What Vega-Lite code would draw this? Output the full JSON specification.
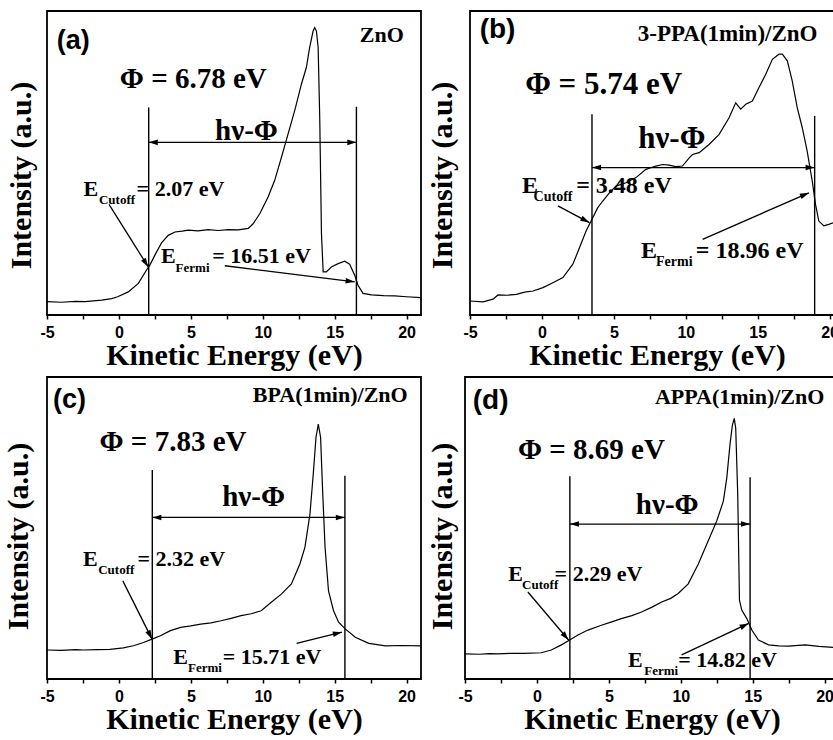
{
  "$schema": "https://vega.github.io/schema/vega-lite/v6.json",
  "padding": {"left": 2, "top": 10, "right": 0, "bottom": 0},
  "background": "white",
  "spacing": 5,
  "config": {
    "view": {"stroke": "black", "strokeWidth": 1.8},
    "axis": {
      "grid": false, "domain": false,
      "titleFont": "Liberation Serif", "titleFontWeight": "bold", "titleFontSize": 30, "titleColor": "black",
      "labelFont": "Liberation Sans", "labelFontWeight": "bold", "labelFontSize": 16, "labelColor": "black",
      "tickColor": "black"
    },
    "axisX": {"tickSize": 4, "tickWidth": 1.5, "labelPadding": 5, "titlePadding": 0, "labelOverlap": false, "labelFlush": false},
    "axisY": {"ticks": false, "labels": false},
    "text": {"font": "Liberation Serif", "fontWeight": "bold", "color": "black", "baseline": "alphabetic", "align": "left"}
  },
  "datasets": {
    "zno": [
      {"E": -5, "I": 4.4}, {"E": -4, "I": 4.2}, {"E": -3, "I": 4.5}, {"E": -2.36, "I": 4.4}, {"E": -1.2, "I": 4.9},
      {"E": -0.5, "I": 5.4}, {"E": -0.09, "I": 6.0}, {"E": 0.65, "I": 7.6}, {"E": 1.35, "I": 10.4}, {"E": 1.92, "I": 14.8},
      {"E": 2.15, "I": 16.4}, {"E": 2.5, "I": 19.7}, {"E": 2.96, "I": 23.7}, {"E": 3.43, "I": 26.2}, {"E": 3.89, "I": 27.3},
      {"E": 4.4, "I": 27.6}, {"E": 4.82, "I": 27.9}, {"E": 5.5, "I": 27.7}, {"E": 6.2, "I": 28.1}, {"E": 6.9, "I": 27.8},
      {"E": 7.6, "I": 28.1}, {"E": 8.3, "I": 28.0}, {"E": 8.99, "I": 28.5}, {"E": 9.33, "I": 30.0}, {"E": 9.79, "I": 33.3},
      {"E": 10.37, "I": 38.8}, {"E": 10.83, "I": 44.3}, {"E": 11.3, "I": 51.9}, {"E": 11.76, "I": 59.6}, {"E": 12.22, "I": 67.2},
      {"E": 12.69, "I": 76.0}, {"E": 13.03, "I": 81.4}, {"E": 13.26, "I": 88.0}, {"E": 13.5, "I": 93.4}, {"E": 13.61, "I": 94.5},
      {"E": 13.73, "I": 93.4}, {"E": 13.85, "I": 88.0}, {"E": 13.96, "I": 65.0}, {"E": 14.08, "I": 26.8}, {"E": 14.2, "I": 14.2},
      {"E": 14.42, "I": 14.2}, {"E": 14.77, "I": 15.8}, {"E": 15.24, "I": 16.9}, {"E": 15.69, "I": 17.7}, {"E": 16.04, "I": 16.7},
      {"E": 16.39, "I": 13.1}, {"E": 16.62, "I": 9.8}, {"E": 16.97, "I": 7.1}, {"E": 17.55, "I": 6.6}, {"E": 18.4, "I": 6.4},
      {"E": 19.17, "I": 6.3}, {"E": 20.0, "I": 6.0}, {"E": 21, "I": 5.7}
    ],
    "ppa3": [
      {"E": -5, "I": 4.6}, {"E": -4.09, "I": 4.3}, {"E": -3.4, "I": 5.2}, {"E": -3.05, "I": 6.6}, {"E": -2.4, "I": 6.5},
      {"E": -1.78, "I": 6.8}, {"E": -1.2, "I": 7.5}, {"E": -0.62, "I": 7.9}, {"E": 0.07, "I": 9.0}, {"E": 0.76, "I": 10.6},
      {"E": 1.46, "I": 12.3}, {"E": 2.15, "I": 16.7}, {"E": 2.61, "I": 22.1}, {"E": 3.07, "I": 27.6}, {"E": 3.42, "I": 30.9},
      {"E": 3.88, "I": 35.3}, {"E": 4.23, "I": 37.5}, {"E": 4.69, "I": 40.2}, {"E": 5.15, "I": 42.4}, {"E": 5.84, "I": 43.5},
      {"E": 6.54, "I": 45.2}, {"E": 7.23, "I": 47.9}, {"E": 7.92, "I": 49.0}, {"E": 8.4, "I": 49.5}, {"E": 8.85, "I": 49.3},
      {"E": 9.3, "I": 48.8}, {"E": 9.77, "I": 49.0}, {"E": 10.24, "I": 51.7}, {"E": 10.47, "I": 52.8}, {"E": 10.93, "I": 53.4},
      {"E": 11.62, "I": 56.1}, {"E": 12.32, "I": 59.4}, {"E": 13.01, "I": 64.9}, {"E": 13.47, "I": 69.8}, {"E": 13.82, "I": 67.7},
      {"E": 14.17, "I": 69.3}, {"E": 14.63, "I": 70.4}, {"E": 15.09, "I": 74.8}, {"E": 15.56, "I": 79.2}, {"E": 16.02, "I": 84.1},
      {"E": 16.48, "I": 85.8}, {"E": 16.71, "I": 85.8}, {"E": 17.06, "I": 83.6}, {"E": 17.4, "I": 77.0}, {"E": 17.75, "I": 68.2},
      {"E": 18.1, "I": 61.6}, {"E": 18.44, "I": 53.9}, {"E": 18.79, "I": 44.1}, {"E": 19.02, "I": 36.4}, {"E": 19.25, "I": 30.9},
      {"E": 19.6, "I": 29.3}, {"E": 19.94, "I": 29.8}, {"E": 20.27, "I": 30.4}, {"E": 21, "I": 30.0}
    ],
    "bpa": [
      {"E": -5, "I": 9.6}, {"E": -4, "I": 9.5}, {"E": -3, "I": 9.7}, {"E": -2.49, "I": 9.6}, {"E": -1.5, "I": 9.7},
      {"E": -0.62, "I": 9.8}, {"E": 0.31, "I": 10.3}, {"E": 1.01, "I": 11.0}, {"E": 1.71, "I": 12.1}, {"E": 2.3, "I": 13.2},
      {"E": 2.88, "I": 14.3}, {"E": 3.58, "I": 16.0}, {"E": 4.29, "I": 17.1}, {"E": 5.0, "I": 17.6}, {"E": 5.69, "I": 18.2},
      {"E": 6.4, "I": 18.6}, {"E": 7.09, "I": 19.3}, {"E": 7.8, "I": 20.1}, {"E": 8.49, "I": 21.0}, {"E": 9.2, "I": 21.6},
      {"E": 9.89, "I": 22.6}, {"E": 10.59, "I": 25.4}, {"E": 11.29, "I": 28.1}, {"E": 11.99, "I": 31.5}, {"E": 12.58, "I": 38.1},
      {"E": 12.93, "I": 43.6}, {"E": 13.28, "I": 54.6}, {"E": 13.51, "I": 67.9}, {"E": 13.7, "I": 80.0}, {"E": 13.86, "I": 84.4},
      {"E": 14.02, "I": 80.0}, {"E": 14.16, "I": 62.4}, {"E": 14.33, "I": 43.6}, {"E": 14.57, "I": 29.2}, {"E": 14.92, "I": 22.6},
      {"E": 15.27, "I": 18.8}, {"E": 15.73, "I": 16.6}, {"E": 16.43, "I": 13.8}, {"E": 17.37, "I": 11.8}, {"E": 18.53, "I": 11.0},
      {"E": 19.7, "I": 11.1}, {"E": 21, "I": 11.0}
    ],
    "appa": [
      {"E": -5, "I": 8.3}, {"E": -4, "I": 8.2}, {"E": -3.3, "I": 8.4}, {"E": -2.72, "I": 8.3}, {"E": -1.8, "I": 8.5},
      {"E": -0.86, "I": 8.5}, {"E": 0.3, "I": 8.7}, {"E": 1.0, "I": 9.6}, {"E": 1.7, "I": 11.3}, {"E": 2.28, "I": 12.9},
      {"E": 2.85, "I": 14.6}, {"E": 3.55, "I": 16.2}, {"E": 4.48, "I": 17.8}, {"E": 5.2, "I": 18.9}, {"E": 5.87, "I": 20.0},
      {"E": 6.6, "I": 21.0}, {"E": 7.27, "I": 22.2}, {"E": 8.0, "I": 23.8}, {"E": 8.67, "I": 25.5}, {"E": 9.3, "I": 26.7},
      {"E": 9.82, "I": 28.3}, {"E": 10.52, "I": 31.5}, {"E": 11.22, "I": 38.1}, {"E": 11.91, "I": 45.8}, {"E": 12.5, "I": 52.3},
      {"E": 12.96, "I": 58.9}, {"E": 13.2, "I": 66.6}, {"E": 13.42, "I": 77.6}, {"E": 13.59, "I": 84.1}, {"E": 13.72, "I": 86.3},
      {"E": 13.82, "I": 83.0}, {"E": 13.96, "I": 61.1}, {"E": 14.08, "I": 26.1}, {"E": 14.24, "I": 22.8}, {"E": 14.59, "I": 20.0},
      {"E": 14.94, "I": 16.2}, {"E": 15.4, "I": 12.9}, {"E": 16.1, "I": 11.3}, {"E": 16.8, "I": 11.0}, {"E": 17.49, "I": 10.9},
      {"E": 18.65, "I": 11.3}, {"E": 19.6, "I": 10.8}, {"E": 20.6, "I": 10.5}, {"E": 21, "I": 10.5}
    ],
    "notes_a": [
      {"kind": "tag", "E": -4.33, "I": 87.5, "t": "(a)"},
      {"kind": "sample", "E": 16.74, "I": 89.9, "t": "ZnO"},
      {"kind": "big", "E": 5.17, "I": 74.6, "t": "Φ = 6.78 eV"},
      {"kind": "big", "E": 8.87, "I": 57.6, "t": "hν-Φ"},
      {"kind": "lbl", "E": -2.47, "I": 39.1, "t": "E"},
      {"kind": "lbl", "E": 1.23, "I": 39.1, "t": "= 2.07 eV"},
      {"kind": "sub", "E": -1.39, "I": 36.4, "t": "Cutoff"},
      {"kind": "lbl", "E": 2.92, "I": 17.2, "t": "E"},
      {"kind": "lbl", "E": 6.49, "I": 17.2, "t": "= 16.51 eV"},
      {"kind": "sub", "E": 3.94, "I": 14.2, "t": "Fermi"},
      {"kind": "edge", "E": 2.07, "I": 68.3},
      {"kind": "edge", "E": 16.51, "I": 68.5},
      {"kind": "span", "E": 2.07, "E2": 16.51, "I": 56.8},
      {"kind": "ptr", "id": "cutoff", "E": -0.69, "I": 36.4, "E2": 2.04, "I2": 15.8},
      {"kind": "ptr", "id": "fermi", "E": 7.36, "I": 16.2, "E2": 16.39, "I2": 10.9}
    ],
    "notes_b": [
      {"kind": "tag", "E": -4.33, "I": 91.2, "t": "(b)"},
      {"kind": "sample", "E": 6.66, "I": 90.1, "t": "3-PPA(1min)/ZnO"},
      {"kind": "big", "E": 4.29, "I": 72.8, "t": "Φ = 5.74 eV"},
      {"kind": "big", "E": 9.03, "I": 55.0, "t": "hν-Φ"},
      {"kind": "lbl", "E": -1.39, "I": 40.2, "t": "E"},
      {"kind": "lbl", "E": 2.38, "I": 40.2, "t": "= 3.48 eV"},
      {"kind": "sub", "E": -0.58, "I": 37.5, "t": "Cutoff"},
      {"kind": "lbl", "E": 6.89, "I": 18.9, "t": "E"},
      {"kind": "lbl", "E": 10.7, "I": 18.9, "t": "= 18.96 eV"},
      {"kind": "sub", "E": 7.93, "I": 16.1, "t": "Fermi"},
      {"kind": "edge", "E": 3.48, "I": 66.0},
      {"kind": "edge", "E": 18.96, "I": 65.5},
      {"kind": "span", "E": 3.48, "E2": 18.96, "I": 48.5},
      {"kind": "ptr", "id": "cutoff", "E": 1.11, "I": 35.9, "E2": 3.3, "I2": 30.4},
      {"kind": "ptr", "id": "fermi", "E": 11.17, "I": 24.9, "E2": 18.56, "I2": 40.2}
    ],
    "notes_c": [
      {"kind": "tag", "E": -4.59, "I": 89.6, "t": "(c)"},
      {"kind": "sample", "E": 9.31, "I": 91.6, "t": "BPA(1min)/ZnO"},
      {"kind": "big", "E": 3.76, "I": 75.4, "t": "Φ = 7.83 eV"},
      {"kind": "big", "E": 9.36, "I": 57.4, "t": "hν-Φ"},
      {"kind": "lbl", "E": -2.49, "I": 37.5, "t": "E"},
      {"kind": "lbl", "E": 1.29, "I": 37.5, "t": "= 2.32 eV"},
      {"kind": "sub", "E": -1.44, "I": 34.8, "t": "Cutoff"},
      {"kind": "lbl", "E": 3.77, "I": 5.0, "t": "E"},
      {"kind": "lbl", "E": 7.21, "I": 5.0, "t": "= 15.71 eV"},
      {"kind": "sub", "E": 4.8, "I": 2.2, "t": "Fermi"},
      {"kind": "edge", "E": 2.32, "I": 69.2},
      {"kind": "edge", "E": 15.71, "I": 67.3},
      {"kind": "span", "E": 2.32, "E2": 15.71, "I": 53.5},
      {"kind": "ptr", "id": "cutoff", "E": 0.27, "I": 32.5, "E2": 2.3, "I2": 13.2},
      {"kind": "ptr", "id": "fermi", "E": 12.35, "I": 11.8, "E2": 15.5, "I2": 15.5}
    ],
    "notes_d": [
      {"kind": "tag", "E": -4.46, "I": 89.3, "t": "(d)"},
      {"kind": "sample", "E": 8.2, "I": 91.2, "t": "APPA(1min)/ZnO"},
      {"kind": "big", "E": 3.79, "I": 72.8, "t": "Φ = 8.69 eV"},
      {"kind": "big", "E": 9.06, "I": 54.7, "t": "hν-Φ"},
      {"kind": "lbl", "E": -2.0, "I": 32.6, "t": "E"},
      {"kind": "lbl", "E": 1.23, "I": 32.6, "t": "= 2.29 eV"},
      {"kind": "sub", "E": -1.03, "I": 29.9, "t": "Cutoff"},
      {"kind": "lbl", "E": 6.34, "I": 4.1, "t": "E"},
      {"kind": "lbl", "E": 9.82, "I": 4.1, "t": "= 14.82 eV"},
      {"kind": "sub", "E": 7.46, "I": 1.4, "t": "Fermi"},
      {"kind": "edge", "E": 2.29, "I": 67.1},
      {"kind": "edge", "E": 14.82, "I": 66.8},
      {"kind": "span", "E": 2.29, "E2": 14.82, "I": 51.3},
      {"kind": "ptr", "id": "cutoff", "E": -0.63, "I": 28.8, "E2": 2.2, "I2": 12.9},
      {"kind": "ptr", "id": "fermi", "E": 10.06, "I": 8.0, "E2": 14.72, "I2": 18.4}
    ]
  },
  "vconcat": [
    {
      "spacing": 4,
      "hconcat": [
        {
          "width": 374, "height": 304,
          "encoding": {
            "x": {"field": "E", "type": "quantitative", "scale": {"domain": [-5, 21], "nice": false, "zero": false},
                  "axis": {"title": "Kinetic Energy (eV)", "values": [-5, -2.5, 0, 2.5, 5, 7.5, 10, 12.5, 15, 17.5, 20], "labelExpr": "datum.value % 5 === 0 ? '' + datum.value : ''"}},
            "y": {"field": "I", "type": "quantitative", "scale": {"domain": [0, 100], "nice": false, "zero": false},
                  "axis": {"title": "Intensity (a.u.)", "titlePadding": 11, "titleY": 164}}
          },
          "layer": [
            {"data": {"name": "zno"}, "mark": {"type": "line", "color": "black", "strokeWidth": 1.2, "clip": true}},
            {"data": {"name": "notes_a"}, "transform": [{"filter": "datum.kind === 'edge'"}], "mark": {"type": "rule", "color": "black", "strokeWidth": 1.4}, "encoding": {"y": {"datum": 0}, "y2": {"field": "I"}}},
            {"data": {"name": "notes_a"}, "transform": [{"filter": "datum.kind === 'span'"}], "mark": {"type": "rule", "color": "black", "strokeWidth": 1.3}, "encoding": {"x2": {"field": "E2"}}},
            {"data": {"name": "notes_a"}, "transform": [{"filter": "datum.kind === 'ptr'"}], "mark": {"type": "rule", "color": "black", "strokeWidth": 1.3}, "encoding": {"x2": {"field": "E2"}, "y2": {"field": "I2"}}},
            {"data": {"name": "notes_a"}, "transform": [{"filter": "datum.kind === 'span'"}], "mark": {"type": "point", "shape": "M0,0L-0.8,2.6L0.8,2.6Z", "size": 49, "filled": true, "color": "black", "opacity": 1, "angle": 270}},
            {"data": {"name": "notes_a"}, "transform": [{"filter": "datum.kind === 'span'"}], "mark": {"type": "point", "shape": "M0,0L-0.8,2.6L0.8,2.6Z", "size": 49, "filled": true, "color": "black", "opacity": 1, "angle": 90}, "encoding": {"x": {"field": "E2", "type": "quantitative"}}},
            {"data": {"name": "notes_a"}, "transform": [{"filter": "datum.id === 'cutoff'"}], "mark": {"type": "point", "shape": "M0,0L-0.8,2.6L0.8,2.6Z", "size": 49, "filled": true, "color": "black", "opacity": 1, "angle": 147.9}, "encoding": {"x": {"field": "E2", "type": "quantitative"}, "y": {"field": "I2", "type": "quantitative"}}},
            {"data": {"name": "notes_a"}, "transform": [{"filter": "datum.id === 'fermi'"}], "mark": {"type": "point", "shape": "M0,0L-0.8,2.6L0.8,2.6Z", "size": 49, "filled": true, "color": "black", "opacity": 1, "angle": 97.0}, "encoding": {"x": {"field": "E2", "type": "quantitative"}, "y": {"field": "I2", "type": "quantitative"}}},
            {"data": {"name": "notes_a"}, "transform": [{"filter": "datum.kind === 'tag'"}], "mark": {"type": "text", "font": "Liberation Sans", "fontSize": 27}, "encoding": {"text": {"field": "t"}}},
            {"data": {"name": "notes_a"}, "transform": [{"filter": "datum.kind === 'sample'"}], "mark": {"type": "text", "fontSize": 22}, "encoding": {"text": {"field": "t"}}},
            {"data": {"name": "notes_a"}, "transform": [{"filter": "datum.kind === 'big'"}], "mark": {"type": "text", "fontSize": 29, "align": "center"}, "encoding": {"text": {"field": "t"}}},
            {"data": {"name": "notes_a"}, "transform": [{"filter": "datum.kind === 'lbl'"}], "mark": {"type": "text", "fontSize": 22}, "encoding": {"text": {"field": "t"}}},
            {"data": {"name": "notes_a"}, "transform": [{"filter": "datum.kind === 'sub'"}], "mark": {"type": "text", "fontSize": 13}, "encoding": {"text": {"field": "t"}}}
          ]
        },
        {
          "width": 374, "height": 304,
          "encoding": {
            "x": {"field": "E", "type": "quantitative", "scale": {"domain": [-5, 21], "nice": false, "zero": false},
                  "axis": {"title": "Kinetic Energy (eV)", "values": [-5, -2.5, 0, 2.5, 5, 7.5, 10, 12.5, 15, 17.5, 20], "labelExpr": "datum.value % 5 === 0 ? '' + datum.value : ''"}},
            "y": {"field": "I", "type": "quantitative", "scale": {"domain": [0, 100], "nice": false, "zero": false},
                  "axis": {"title": "Intensity (a.u.)", "titlePadding": 12.5, "titleY": 164}}
          },
          "layer": [
            {"data": {"name": "ppa3"}, "mark": {"type": "line", "color": "black", "strokeWidth": 1.2, "clip": true}},
            {"data": {"name": "notes_b"}, "transform": [{"filter": "datum.kind === 'edge'"}], "mark": {"type": "rule", "color": "black", "strokeWidth": 1.4}, "encoding": {"y": {"datum": 0}, "y2": {"field": "I"}}},
            {"data": {"name": "notes_b"}, "transform": [{"filter": "datum.kind === 'span'"}], "mark": {"type": "rule", "color": "black", "strokeWidth": 1.3}, "encoding": {"x2": {"field": "E2"}}},
            {"data": {"name": "notes_b"}, "transform": [{"filter": "datum.kind === 'ptr'"}], "mark": {"type": "rule", "color": "black", "strokeWidth": 1.3}, "encoding": {"x2": {"field": "E2"}, "y2": {"field": "I2"}}},
            {"data": {"name": "notes_b"}, "transform": [{"filter": "datum.kind === 'span'"}], "mark": {"type": "point", "shape": "M0,0L-0.8,2.6L0.8,2.6Z", "size": 49, "filled": true, "color": "black", "opacity": 1, "angle": 270}},
            {"data": {"name": "notes_b"}, "transform": [{"filter": "datum.kind === 'span'"}], "mark": {"type": "point", "shape": "M0,0L-0.8,2.6L0.8,2.6Z", "size": 49, "filled": true, "color": "black", "opacity": 1, "angle": 90}, "encoding": {"x": {"field": "E2", "type": "quantitative"}}},
            {"data": {"name": "notes_b"}, "transform": [{"filter": "datum.id === 'cutoff'"}], "mark": {"type": "point", "shape": "M0,0L-0.8,2.6L0.8,2.6Z", "size": 49, "filled": true, "color": "black", "opacity": 1, "angle": 117.9}, "encoding": {"x": {"field": "E2", "type": "quantitative"}, "y": {"field": "I2", "type": "quantitative"}}},
            {"data": {"name": "notes_b"}, "transform": [{"filter": "datum.id === 'fermi'"}], "mark": {"type": "point", "shape": "M0,0L-0.8,2.6L0.8,2.6Z", "size": 49, "filled": true, "color": "black", "opacity": 1, "angle": 66.4}, "encoding": {"x": {"field": "E2", "type": "quantitative"}, "y": {"field": "I2", "type": "quantitative"}}},
            {"data": {"name": "notes_b"}, "transform": [{"filter": "datum.kind === 'tag'"}], "mark": {"type": "text", "font": "Liberation Sans", "fontSize": 28}, "encoding": {"text": {"field": "t"}}},
            {"data": {"name": "notes_b"}, "transform": [{"filter": "datum.kind === 'sample'"}], "mark": {"type": "text", "fontSize": 23}, "encoding": {"text": {"field": "t"}}},
            {"data": {"name": "notes_b"}, "transform": [{"filter": "datum.kind === 'big'"}], "mark": {"type": "text", "fontSize": 31, "align": "center"}, "encoding": {"text": {"field": "t"}}},
            {"data": {"name": "notes_b"}, "transform": [{"filter": "datum.kind === 'lbl'"}], "mark": {"type": "text", "fontSize": 24}, "encoding": {"text": {"field": "t"}}},
            {"data": {"name": "notes_b"}, "transform": [{"filter": "datum.kind === 'sub'"}], "mark": {"type": "text", "fontSize": 14}, "encoding": {"text": {"field": "t"}}}
          ]
        }
      ]
    },
    {
      "spacing": 4,
      "hconcat": [
        {
          "width": 374, "height": 302,
          "encoding": {
            "x": {"field": "E", "type": "quantitative", "scale": {"domain": [-5, 21], "nice": false, "zero": false},
                  "axis": {"title": "Kinetic Energy (eV)", "values": [-5, -2.5, 0, 2.5, 5, 7.5, 10, 12.5, 15, 17.5, 20], "labelExpr": "datum.value % 5 === 0 ? '' + datum.value : ''"}},
            "y": {"field": "I", "type": "quantitative", "scale": {"domain": [0, 100], "nice": false, "zero": false},
                  "axis": {"title": "Intensity (a.u.)", "titlePadding": 13.5, "titleY": 159}}
          },
          "layer": [
            {"data": {"name": "bpa"}, "mark": {"type": "line", "color": "black", "strokeWidth": 1.2, "clip": true}},
            {"data": {"name": "notes_c"}, "transform": [{"filter": "datum.kind === 'edge'"}], "mark": {"type": "rule", "color": "black", "strokeWidth": 1.4}, "encoding": {"y": {"datum": 0}, "y2": {"field": "I"}}},
            {"data": {"name": "notes_c"}, "transform": [{"filter": "datum.kind === 'span'"}], "mark": {"type": "rule", "color": "black", "strokeWidth": 1.3}, "encoding": {"x2": {"field": "E2"}}},
            {"data": {"name": "notes_c"}, "transform": [{"filter": "datum.kind === 'ptr'"}], "mark": {"type": "rule", "color": "black", "strokeWidth": 1.3}, "encoding": {"x2": {"field": "E2"}, "y2": {"field": "I2"}}},
            {"data": {"name": "notes_c"}, "transform": [{"filter": "datum.kind === 'span'"}], "mark": {"type": "point", "shape": "M0,0L-0.8,2.6L0.8,2.6Z", "size": 49, "filled": true, "color": "black", "opacity": 1, "angle": 270}},
            {"data": {"name": "notes_c"}, "transform": [{"filter": "datum.kind === 'span'"}], "mark": {"type": "point", "shape": "M0,0L-0.8,2.6L0.8,2.6Z", "size": 49, "filled": true, "color": "black", "opacity": 1, "angle": 90}, "encoding": {"x": {"field": "E2", "type": "quantitative"}}},
            {"data": {"name": "notes_c"}, "transform": [{"filter": "datum.id === 'cutoff'"}], "mark": {"type": "point", "shape": "M0,0L-0.8,2.6L0.8,2.6Z", "size": 49, "filled": true, "color": "black", "opacity": 1, "angle": 153.6}, "encoding": {"x": {"field": "E2", "type": "quantitative"}, "y": {"field": "I2", "type": "quantitative"}}},
            {"data": {"name": "notes_c"}, "transform": [{"filter": "datum.id === 'fermi'"}], "mark": {"type": "point", "shape": "M0,0L-0.8,2.6L0.8,2.6Z", "size": 49, "filled": true, "color": "black", "opacity": 1, "angle": 76.3}, "encoding": {"x": {"field": "E2", "type": "quantitative"}, "y": {"field": "I2", "type": "quantitative"}}},
            {"data": {"name": "notes_c"}, "transform": [{"filter": "datum.kind === 'tag'"}], "mark": {"type": "text", "font": "Liberation Sans", "fontSize": 27}, "encoding": {"text": {"field": "t"}}},
            {"data": {"name": "notes_c"}, "transform": [{"filter": "datum.kind === 'sample'"}], "mark": {"type": "text", "fontSize": 22}, "encoding": {"text": {"field": "t"}}},
            {"data": {"name": "notes_c"}, "transform": [{"filter": "datum.kind === 'big'"}], "mark": {"type": "text", "fontSize": 29, "align": "center"}, "encoding": {"text": {"field": "t"}}},
            {"data": {"name": "notes_c"}, "transform": [{"filter": "datum.kind === 'lbl'"}], "mark": {"type": "text", "fontSize": 22}, "encoding": {"text": {"field": "t"}}},
            {"data": {"name": "notes_c"}, "transform": [{"filter": "datum.kind === 'sub'"}], "mark": {"type": "text", "fontSize": 13}, "encoding": {"text": {"field": "t"}}}
          ]
        },
        {
          "width": 374, "height": 302,
          "encoding": {
            "x": {"field": "E", "type": "quantitative", "scale": {"domain": [-5, 21], "nice": false, "zero": false},
                  "axis": {"title": "Kinetic Energy (eV)", "values": [-5, -2.5, 0, 2.5, 5, 7.5, 10, 12.5, 15, 17.5, 20], "labelExpr": "datum.value % 5 === 0 ? '' + datum.value : ''"}},
            "y": {"field": "I", "type": "quantitative", "scale": {"domain": [0, 100], "nice": false, "zero": false},
                  "axis": {"title": "Intensity (a.u.)", "titlePadding": 7.2, "titleY": 159}}
          },
          "layer": [
            {"data": {"name": "appa"}, "mark": {"type": "line", "color": "black", "strokeWidth": 1.2, "clip": true}},
            {"data": {"name": "notes_d"}, "transform": [{"filter": "datum.kind === 'edge'"}], "mark": {"type": "rule", "color": "black", "strokeWidth": 1.4}, "encoding": {"y": {"datum": 0}, "y2": {"field": "I"}}},
            {"data": {"name": "notes_d"}, "transform": [{"filter": "datum.kind === 'span'"}], "mark": {"type": "rule", "color": "black", "strokeWidth": 1.3}, "encoding": {"x2": {"field": "E2"}}},
            {"data": {"name": "notes_d"}, "transform": [{"filter": "datum.kind === 'ptr'"}], "mark": {"type": "rule", "color": "black", "strokeWidth": 1.3}, "encoding": {"x2": {"field": "E2"}, "y2": {"field": "I2"}}},
            {"data": {"name": "notes_d"}, "transform": [{"filter": "datum.kind === 'span'"}], "mark": {"type": "point", "shape": "M0,0L-0.8,2.6L0.8,2.6Z", "size": 49, "filled": true, "color": "black", "opacity": 1, "angle": 270}},
            {"data": {"name": "notes_d"}, "transform": [{"filter": "datum.kind === 'span'"}], "mark": {"type": "point", "shape": "M0,0L-0.8,2.6L0.8,2.6Z", "size": 49, "filled": true, "color": "black", "opacity": 1, "angle": 90}, "encoding": {"x": {"field": "E2", "type": "quantitative"}}},
            {"data": {"name": "notes_d"}, "transform": [{"filter": "datum.id === 'cutoff'"}], "mark": {"type": "point", "shape": "M0,0L-0.8,2.6L0.8,2.6Z", "size": 49, "filled": true, "color": "black", "opacity": 1, "angle": 139.9}, "encoding": {"x": {"field": "E2", "type": "quantitative"}, "y": {"field": "I2", "type": "quantitative"}}},
            {"data": {"name": "notes_d"}, "transform": [{"filter": "datum.id === 'fermi'"}], "mark": {"type": "point", "shape": "M0,0L-0.8,2.6L0.8,2.6Z", "size": 49, "filled": true, "color": "black", "opacity": 1, "angle": 64.5}, "encoding": {"x": {"field": "E2", "type": "quantitative"}, "y": {"field": "I2", "type": "quantitative"}}},
            {"data": {"name": "notes_d"}, "transform": [{"filter": "datum.kind === 'tag'"}], "mark": {"type": "text", "font": "Liberation Sans", "fontSize": 28}, "encoding": {"text": {"field": "t"}}},
            {"data": {"name": "notes_d"}, "transform": [{"filter": "datum.kind === 'sample'"}], "mark": {"type": "text", "fontSize": 22}, "encoding": {"text": {"field": "t"}}},
            {"data": {"name": "notes_d"}, "transform": [{"filter": "datum.kind === 'big'"}], "mark": {"type": "text", "fontSize": 29, "align": "center"}, "encoding": {"text": {"field": "t"}}},
            {"data": {"name": "notes_d"}, "transform": [{"filter": "datum.kind === 'lbl'"}], "mark": {"type": "text", "fontSize": 22}, "encoding": {"text": {"field": "t"}}},
            {"data": {"name": "notes_d"}, "transform": [{"filter": "datum.kind === 'sub'"}], "mark": {"type": "text", "fontSize": 13}, "encoding": {"text": {"field": "t"}}}
          ]
        }
      ]
    }
  ]
}
